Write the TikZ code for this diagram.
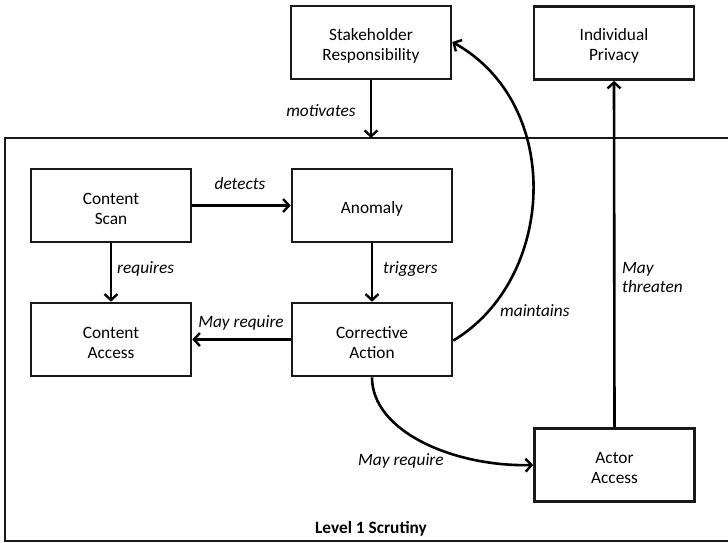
\documentclass[tikz,border=0pt]{standalone}
\usepackage{fontspec}
\setmainfont{Carlito}
\usetikzlibrary{arrows.meta}
\begin{document}
\begin{tikzpicture}[x=1pt,y=-1pt,
  box/.style={draw=black!90, line width=2.6pt, minimum width=160pt, minimum height=73pt, inner sep=0pt},
  boxtext/.style={align=center, inner sep=0pt, yshift=-3pt, font=\fontsize{17.3}{20}\selectfont},
  lbl/.style={inner sep=0pt, font=\fontsize{17.3}{19}\selectfont\itshape},
  conn/.style={line width=2.6pt, -{Straight Barb[length=6pt,width=13pt,line width=2.4pt]}},
  frame/.style={draw=black!90, line width=2.2pt}]
\useasboundingbox (0,0) rectangle (728,543);

% enclosing scope box (right edge runs off the page)
\draw[frame] (745,138) -- (5,138) -- (5,541) -- (745,541);
\coordinate (frametop) at (371,138);
\node[inner sep=0pt, anchor=base, font=\fontsize{17.3}{19}\selectfont\bfseries] (scrutiny) at (371,533) {Level 1 Scrutiny};

% boxes (text set as a centred label so it sits slightly below the middle)
\node[box, label={[boxtext]center:{Stakeholder\\Responsibility}}] (stake) at (371,42.5) {};
\node[box, label={[boxtext]center:{Individual\\Privacy}}] (priv) at (614,43) {};
\node[box, label={[boxtext]center:{Content\\Scan}}] (scan) at (111,205.5) {};
\node[box, label={[boxtext]center:{Anomaly}}] (anom) at (372,205.5) {};
\node[box, label={[boxtext]center:{Content\\Access}}] (caccess) at (111,339.5) {};
\node[box, label={[boxtext]center:{Corrective\\Action}}] (corr) at (372,339.5) {};
\node[box, label={[boxtext]center:{Actor\\Access}}] (aaccess) at (614.5,465) {};

% connectors
\draw[conn] (stake.south) -- (frametop);
\draw[conn] (scan.east) -- (anom.west);
\draw[conn] (scan.south) -- (caccess.north);
\draw[conn] (anom.south) -- (corr.north);
\draw[conn] (corr.west) -- (caccess.east);
\draw[conn] (aaccess.north) -- (priv.south);
\draw[conn] ([yshift=-1pt]corr.east) .. controls (555,280) and (565,105) .. ([yshift=0.5pt]stake.east);
\draw[conn] (corr.south) .. controls (372,432) and (455,467) .. (aaccess.west);

% connector labels
\node[lbl, anchor=base] (lmot) at (321,116) {motivates};
\node[lbl, anchor=base] (ldet) at (240,189) {detects};
\node[lbl, anchor=base west] (lreq) at (117,273) {requires};
\node[lbl, anchor=base west] (ltrig) at (383,273) {triggers};
\node[lbl, anchor=base] (lmay1) at (241,327) {May require};
\node[lbl, anchor=base west] (lmain) at (500,316) {maintains};
\node[lbl, anchor=base west] (lmay2) at (358,465) {May require};
\node[lbl, anchor=base west, align=left] (lthr) at (622,292) {May\\threaten};
\end{tikzpicture}
\end{document}
